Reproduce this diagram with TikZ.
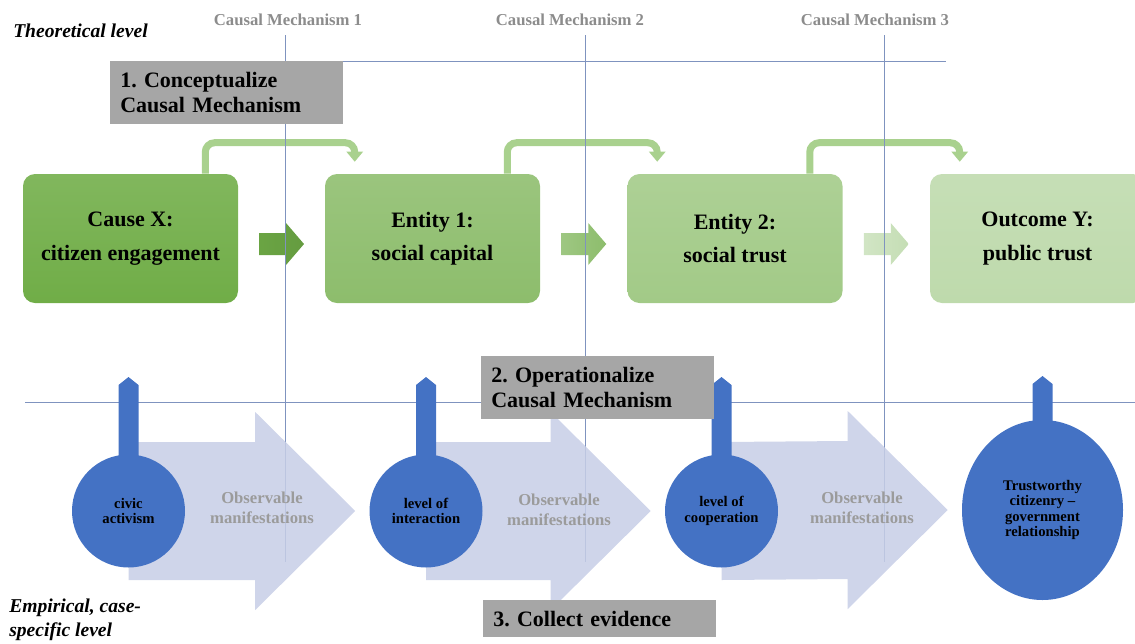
\documentclass[tikz,border=0pt]{standalone}
\usepackage{fontspec}
\setmainfont{Liberation Serif}
\usetikzlibrary{calc,shapes.geometric,arrows.meta}

\definecolor{stageA}{HTML}{70AD47}
\definecolor{stageB}{HTML}{8DBD6C}
\definecolor{stageC}{HTML}{A2CA87}
\definecolor{stageD}{HTML}{BEDAAC}
\definecolor{arcgreen}{HTML}{A9D18E}
\definecolor{guideblue}{HTML}{7F93BF}
\definecolor{flowlilac}{RGB}{199,206,230}
\definecolor{nodeblue}{HTML}{4472C4}
\definecolor{boxgrey}{HTML}{A6A6A6}
\definecolor{labelgrey}{HTML}{8C8C8C}
\definecolor{obsgrey}{HTML}{9B9B9B}

\pgfdeclarelayer{base}
\pgfdeclarelayer{guides}
\pgfdeclarelayer{flows}
\pgfdeclarelayer{stems}
\pgfsetlayers{base,guides,flows,stems,main}

\tikzset{
  stagebox/.style={rounded corners=9pt, minimum width=161.25pt, minimum height=96.75pt, inner sep=0pt, align=center, font=\fontsize{16.5}{25}\selectfont\bfseries},
  loopline/.style={draw=arcgreen, line width=5.25pt, rounded corners=7pt, -{Triangle[width=12pt,length=7.5pt]}, shorten >=9pt},
  guide/.style={draw=guideblue, line width=0.6pt},
  flowarrow/.style={fill=flowlilac, fill opacity=0.85},
  bubble/.style={circle, fill=nodeblue, minimum size=84.75pt, inner sep=0pt, align=center, font=\fontsize{11}{11.5}\selectfont\bfseries},
  stemfill/.style={fill=nodeblue},
  stepbox/.style={fill=boxgrey, anchor=north west, minimum width=174.75pt, text width=159.75pt, inner xsep=7.5pt, inner ysep=0pt, align=left, font=\fontsize{16.5}{19}\selectfont\bfseries},
  mechlabel/.style={text=labelgrey, inner sep=0.75pt, font=\fontsize{12.5}{15}\selectfont\bfseries},
  obslabel/.style={text=obsgrey, inner sep=0.75pt, align=center, font=\fontsize{12.5}{15}\selectfont\bfseries},
  levellabel/.style={anchor=west, inner sep=0.75pt, align=left, font=\fontsize{14.7}{18}\selectfont\bfseries\itshape}
}

\begin{document}
\frenchspacing
\begin{tikzpicture}[x=0.75pt,y=0.75pt,yscale=-1,xscale=1]
%set diagram size to 1135 x 643
\useasboundingbox (0,0) rectangle (1135,643);

\begin{pgfonlayer}{base}
%Shape: Rounded Rect [stages]
\node[stagebox, top color=stageA!88!white, bottom color=stageA] (cause) at (130.5,238.5) {Cause X:\\citizen engagement};
\node[stagebox, top color=stageB!88!white, bottom color=stageB] (entity1) at (432.5,238.5) {Entity 1:\\social capital};
\node[stagebox, top color=stageC!88!white, bottom color=stageC] (entity2) at (735,238.5) {Entity 2:\\social trust};
\node[stagebox, top color=stageD!88!white, bottom color=stageD] (outcome) at (1037.5,238.5) {Outcome Y:\\public trust};

%Shape: Right Arrow [between stages]
\coordinate (push1) at ($(cause.east)!0.5!(entity1.west)+(0,5.5)$);
\coordinate (push2) at ($(entity1.east)!0.5!(entity2.west)+(0,5.5)$);
\coordinate (push3) at ($(entity2.east)!0.5!(outcome.west)+(0,5.5)$);
\shade[left color=stageA!95!black, right color=stageA!90!black] (push1) ++(-22.5,-11) -- ++(27,0) -- ++(0,-10) -- ++(18,21) -- ++(-18,21) -- ++(0,-10) -- ++(-27,0) -- cycle;
\shade[left color=stageB!85!white, right color=stageB] (push2) ++(-22.5,-11) -- ++(27,0) -- ++(0,-10) -- ++(18,21) -- ++(-18,21) -- ++(0,-10) -- ++(-27,0) -- cycle;
\shade[left color=stageD!70!white, right color=stageD!90!white] (push3) ++(-22.5,-11) -- ++(27,0) -- ++(0,-10) -- ++(18,21) -- ++(-18,21) -- ++(0,-10) -- ++(-27,0) -- cycle;

%Curve Lines [stage to stage]
\draw[loopline] ($(cause.north east)+(-33,0)$) -- ++(0,-31) -| ($(entity1.north west)+(30,0)$);
\draw[loopline] ($(entity1.north east)+(-33,0)$) -- ++(0,-31) -| ($(entity2.north west)+(30,0)$);
\draw[loopline] ($(entity2.north east)+(-33,0)$) -- ++(0,-31) -| ($(outcome.north west)+(30,0)$);
\end{pgfonlayer}

\begin{pgfonlayer}{guides}
%Straight Lines [levels]
\draw[guide] (200,61) -- (946,61);
\draw[guide] (25,402) -- (1135,402);
%Straight Lines [mechanisms]
\draw[guide] (285,35) -- (285,562);
\draw[guide] (585,35) -- (585,562);
\draw[guide] (884,35) -- (884,562);
\end{pgfonlayer}

%Shape: Circle [indicators]
\node[bubble] (civic) at (128.5,511) {civic\\activism};
\node[bubble] (interaction) at (426,511) {level of\\interaction};
\node[bubble] (cooperation) at (721.5,511) {level of\\cooperation};
\node[bubble, ellipse, minimum width=120.75pt, minimum height=135pt] (relation) at (1042.5,510) {Trustworthy\\citizenry –\\government\\relationship};

\begin{pgfonlayer}{stems}
%Shape: Stems [indicators]
\fill[stemfill] (civic.center) ++(-10,0) -- ++(0,-126) -- ++(10,-8) -- ++(10,8) -- ++(0,126) -- cycle;
\fill[stemfill] (interaction.center) ++(-10,0) -- ++(0,-126) -- ++(10,-8) -- ++(10,8) -- ++(0,126) -- cycle;
\fill[stemfill] (cooperation.center) ++(-10,0) -- ++(0,-126) -- ++(10,-8) -- ++(10,8) -- ++(0,126) -- cycle;
\fill[stemfill] (relation.center) ++(-10,0) -- ++(0,-126) -- ++(10,-8) -- ++(10,8) -- ++(0,126) -- cycle;
\end{pgfonlayer}

\begin{pgfonlayer}{flows}
%Shape: Right Arrow [observable manifestations]
\coordinate (tip1) at ($(interaction.west)+(-14,0)$);
\coordinate (tip2) at ($(cooperation.west)+(-14,0)$);
\coordinate (tip3) at ($(relation.west)+(-14,0)$);
\fill[flowarrow] ($(civic.center)+(0,-69)$) -- ($(tip1)+(-100,-69)$) -- ($(tip1)+(-100,-99)$) -- (tip1) -- ($(tip1)+(-100,99)$) -- ($(tip1)+(-100,69)$) -- ($(civic.center)+(0,69)$) -- cycle;
\fill[flowarrow] ($(interaction.center)+(0,-69)$) -- ($(tip2)+(-100,-69)$) -- ($(tip2)+(-100,-99)$) -- (tip2) -- ($(tip2)+(-100,99)$) -- ($(tip2)+(-100,69)$) -- ($(interaction.center)+(0,69)$) -- cycle;
\fill[flowarrow] ($(cooperation.center)+(0,-69)$) -- ($(tip3)+(-100,-69)$) -- ($(tip3)+(-100,-99)$) -- (tip3) -- ($(tip3)+(-100,99)$) -- ($(tip3)+(-100,69)$) -- ($(cooperation.center)+(0,69)$) -- cycle;
\end{pgfonlayer}

%Shape: Rectangle [steps]
\node[stepbox, minimum height=47.25pt] (step1) at (110,61) {1. Conceptualize\\Causal Mechanism};
\node[stepbox, minimum height=47.25pt] (step2) at (481,356) {2. Operationalize\\Causal Mechanism};
\node[stepbox, minimum height=27.75pt] (step3) at (483,600) {3. Collect evidence};

% Text Node
\node[mechlabel] (mech1) at (288,20) {Causal Mechanism 1};
% Text Node
\node[mechlabel] (mech2) at (570,20) {Causal Mechanism 2};
% Text Node
\node[mechlabel] (mech3) at (875,20) {Causal Mechanism 3};
% Text Node
\node[levellabel] (theory) at (12,31) {Theoretical level};
% Text Node
\node[levellabel] (empiric) at (8,620) {Empirical, case-\\specific level};
% Text Node
\node[obslabel] (obs1) at (262,508) {Observable\\manifestations};
% Text Node
\node[obslabel] (obs2) at (559,510) {Observable\\manifestations};
% Text Node
\node[obslabel] (obs3) at (862,508) {Observable\\manifestations};

\end{tikzpicture}
\end{document}
